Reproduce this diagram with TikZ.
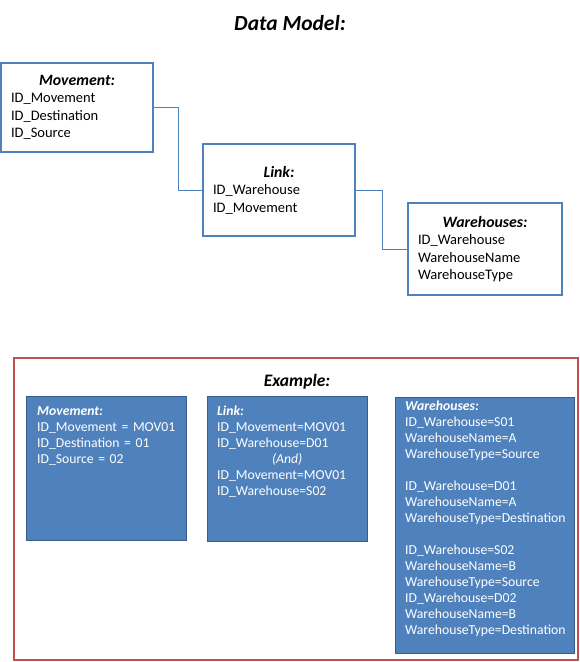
\documentclass[tikz,border=0pt]{standalone}
\usepackage{fontspec}
\setmainfont{Carlito}
\usetikzlibrary{positioning}

\definecolor{officeblue}{HTML}{4F81BD}
\definecolor{darkblue}{HTML}{385D8A}
\definecolor{officered}{HTML}{C0504D}

\newcommand{\tabletitle}[1]{\makebox[\linewidth]{\fontsize{15.8}{17.5}\selectfont\textbf{\textit{#1}}}}

\tikzset{
  table/.style={draw=officeblue, line width=1.8pt, inner xsep=10pt, inner ysep=0pt,
    align=left, font=\fontsize{14.5}{17.5}\selectfont},
  relation/.style={draw=officeblue, line width=1pt},
  exbox/.style={draw=darkblue, fill=officeblue, line width=1pt},
  extext/.style={text=white, inner sep=0pt, align=left, font=\fontsize{13.7}{16}\selectfont}
}

\begin{document}
\begin{tikzpicture}[x=1pt, y=-1pt]
  \useasboundingbox (0,0) rectangle (580,662);

  % Heading
  \node[font=\fontsize{21.5}{24}\selectfont\bfseries\itshape] (title) at (290,23) {Data Model:};

  % === Data model tables
  \node[table, text width=132pt, minimum width=152pt, minimum height=89pt] (movtab) at (77,107.5)
    {\tabletitle{Movement:}\\ ID\_Movement\\ ID\_Destination\\ ID\_Source};
  \node[table, text width=132pt, minimum width=152pt, minimum height=92pt] (linktab) at (279,190)
    {\tabletitle{Link:}\\ ID\_Warehouse\\ ID\_Movement};
  \node[table, text width=134pt, minimum width=154pt, minimum height=92pt] (whtab) at (485,249)
    {\tabletitle{Warehouses:}\\ ID\_Warehouse\\ WarehouseName\\ WarehouseType};

  % Relations
  \draw[relation] (movtab.east) -- ++(25,0) |- (linktab.west);
  \draw[relation] (linktab.east) -- ++(27,0) |- (whtab.west);

  % === Example frame
  \draw[officered, line width=2pt] (14,358) rectangle (578,660);
  \node[font=\fontsize{17.5}{20}\selectfont\bfseries\itshape] (extitle) at (297,382) {Example:};

  \node[exbox, minimum width=160pt, minimum height=144pt] (exmov) at (106,468) {};
  \node[exbox, minimum width=160pt, minimum height=145pt] (exlink) at (287,468.5) {};
  \node[exbox, minimum width=179pt, minimum height=256pt] (exwh) at (484.5,525) {};

  \node[extext, text width=145pt, anchor=base west] (exmovtext) at (37,415)
    {\textbf{\textit{Movement:}}\\ ID\_Movement = MOV01\\ ID\_Destination = 01\\ ID\_Source = 02};
  \node[extext, text width=140pt, anchor=base west] (exlinktext) at (217,415)
    {\textbf{\textit{Link:}}\\ ID\_Movement=MOV01\\ ID\_Warehouse=D01\\
     \makebox[\linewidth]{\textit{(And)}}\\ ID\_Movement=MOV01\\ ID\_Warehouse=S02};
  \node[extext, text width=165pt, anchor=base west] (exwhtext) at (405,410)
    {\textbf{\textit{Warehouses:}}\\ ID\_Warehouse=S01\\ WarehouseName=A\\ WarehouseType=Source\\[16pt]
     ID\_Warehouse=D01\\ WarehouseName=A\\ WarehouseType=Destination\\[16pt]
     ID\_Warehouse=S02\\ WarehouseName=B\\ WarehouseType=Source\\
     ID\_Warehouse=D02\\ WarehouseName=B\\ WarehouseType=Destination};
\end{tikzpicture}
\end{document}
